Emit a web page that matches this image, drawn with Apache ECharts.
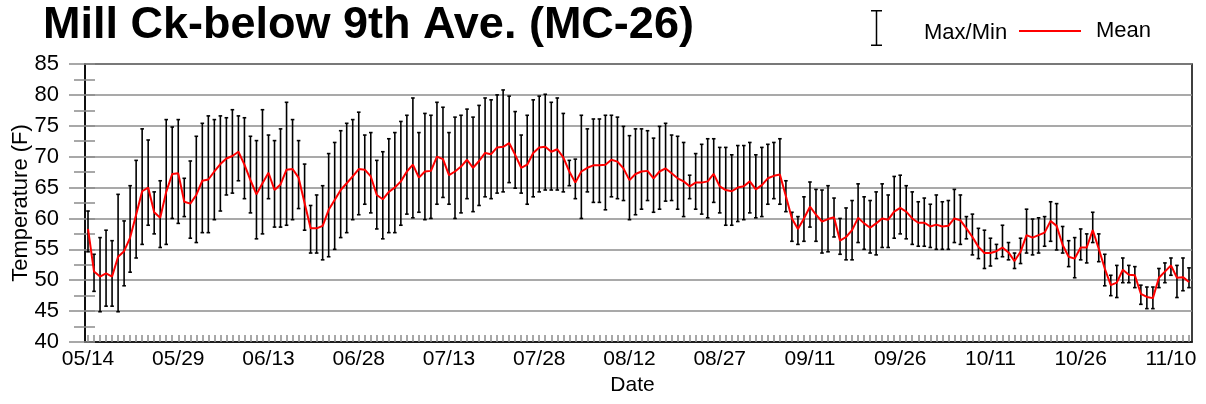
<!DOCTYPE html>
<html><head><meta charset="utf-8">
<script src="https://cdn.jsdelivr.net/npm/echarts@6/dist/echarts.min.js"></script>
<style>html,body{margin:0;padding:0;background:#fff}#c{width:1206px;height:404px}</style>
</head><body><div id="c"></div>
<script>
const startMonth = 5, startDay = 14, dayCount = 184;
const tickLabels = ['05/14','05/29','06/13','06/28','07/13','07/28','08/12','08/27','09/11','09/26','10/11','10/26','11/10'];
const maxVals = [61.2,54.2,56.9,58.1,56.4,63.9,59.6,65.3,69.4,74.5,72.7,64.3,66.1,76.0,74.8,76.0,66.5,
69.3,73.3,75.4,76.6,76.0,76.6,76.3,77.6,76.6,76.3,73.3,72.6,77.6,73.5,72.6,74.5,78.8,76.0,72.6,68.8,
62.1,63.8,65.3,70.5,72.3,74.2,75.4,76.0,77.2,73.5,73.9,69.4,70.8,72.9,73.9,75.7,76.7,79.5,73.9,77.0,
76.7,78.8,78.0,73.9,76.4,76.7,77.7,76.4,78.3,79.5,79.2,80.0,80.8,79.8,77.3,73.5,76.7,79.2,79.8,80.1,
78.8,79.5,77.0,69.4,69.6,76.7,74.5,76.1,76.1,76.7,76.7,76.4,74.9,73.4,74.5,74.5,74.2,73.0,74.9,75.4,
73.5,73.3,72.3,67.0,70.5,72.0,72.9,72.9,71.5,71.5,70.3,71.8,71.8,72.3,70.3,71.5,72.0,72.3,72.9,
66.1,61.0,60.3,63.5,65.9,64.7,64.6,65.3,63.3,60.0,61.7,62.9,65.6,63.5,62.9,64.3,65.6,63.8,66.8,67.0,65.3,
64.3,62.7,63.3,62.3,63.8,62.7,62.9,64.7,63.8,60.3,60.7,58.4,58.1,56.8,55.8,58.9,56.1,54.4,56.8,61.5,
59.9,60.1,60.3,62.7,62.4,58.7,56.4,56.9,58.3,57.5,61.0,57.5,54.2,50.8,52.4,53.6,52.4,52.2,49.2,48.9,48.9,51.9,52.8,53.6,52.4,53.6,52.0];
const minVals = [54.6,48.2,44.9,45.8,45.8,44.9,49.1,51.3,53.6,55.8,58.9,57.5,55.3,55.8,60.0,59.2,60.3,
56.8,56.1,57.7,57.7,59.8,61.2,63.8,64.1,66.1,63.2,60.9,56.7,57.5,63.2,58.6,58.6,58.9,59.8,61.6,58.1,
54.4,54.4,53.3,53.8,55.0,56.9,57.7,59.8,60.6,62.3,60.9,58.3,56.7,57.7,57.7,58.9,60.7,60.1,61.0,59.8,
60.0,62.3,63.4,62.3,60.0,60.9,63.2,61.1,62.1,63.5,63.2,64.1,64.3,65.8,64.9,64.1,62.3,63.5,64.3,64.6,
64.6,64.6,64.3,65.3,63.2,60.0,64.3,62.6,62.6,61.4,63.5,63.2,62.9,59.8,60.6,61.5,62.9,61.0,61.5,62.8,
62.9,61.5,60.3,63.2,61.5,60.7,60.1,62.6,60.9,58.9,58.9,59.5,59.8,60.9,60.1,60.3,62.3,63.2,62.3,
61.1,56.3,55.8,56.3,58.6,56.3,54.4,54.6,57.0,54.2,53.3,53.3,56.1,55.0,54.4,54.1,55.3,55.3,56.8,57.5,56.7,
55.8,55.5,55.5,55.3,55.0,55.0,55.0,56.1,55.8,56.7,54.1,53.5,51.9,52.3,53.5,53.8,53.3,51.9,52.7,54.4,
54.1,54.4,55.5,56.3,54.9,54.4,52.2,50.4,53.3,52.8,56.1,53.0,49.1,47.5,47.2,49.6,49.6,48.8,46.1,45.4,45.4,48.8,49.6,50.8,47.2,48.3,48.8];
const meanVals = [58.3,51.4,50.6,51.1,50.6,53.8,54.7,56.9,60.6,64.4,65.0,61.0,60.1,64.3,67.2,67.3,62.7,
62.4,63.8,66.1,66.3,67.6,68.8,69.7,70.1,70.8,68.7,66.2,63.9,65.7,67.4,64.6,65.5,67.9,68.0,66.6,62.5,
58.4,58.4,58.8,61.4,63.0,64.6,65.7,66.8,68.0,67.9,66.8,63.8,63.1,64.3,65.0,66.0,67.6,68.7,66.6,67.6,
67.7,70.0,69.6,67.0,67.6,68.4,69.5,68.2,69.3,70.6,70.4,71.5,71.6,72.2,70.3,68.2,68.7,70.6,71.5,71.6,
70.8,71.2,69.9,67.6,65.8,67.6,68.2,68.6,68.6,68.7,69.5,69.2,68.1,66.2,67.2,67.6,67.7,66.5,67.6,68.1,
67.3,66.5,66.0,65.2,65.8,65.8,66.0,67.2,65.2,64.6,64.4,65.0,65.2,66.0,64.7,65.4,66.5,66.9,67.1,
63.6,60.0,58.3,60.0,61.9,60.6,59.5,59.9,60.2,56.4,57.0,58.1,60.1,59.2,58.5,59.2,60.0,59.8,61.1,61.7,61.1,
60.0,59.3,59.3,58.7,59.0,58.7,58.8,60.0,59.7,58.4,57.0,55.4,54.4,54.4,54.7,55.3,54.5,53.1,54.6,57.3,
56.9,57.3,57.7,59.6,58.8,55.7,53.8,53.5,55.3,55.3,58.1,55.1,51.9,49.2,49.6,51.7,50.9,50.8,47.8,47.3,47.1,50.4,51.4,52.4,50.4,50.5,49.7];

const categories = [];
for (let i = 0; i < dayCount; i++) {
  const d = new Date(2001, startMonth - 1, startDay + i);
  categories.push(String(d.getMonth() + 1).padStart(2, '0') + '/' + String(d.getDate()).padStart(2, '0'));
}
const barData = categories.map((c, i) => [i, minVals[i], maxVals[i]]);

const FONT = 'Liberation Sans, Arial, Helvetica, sans-serif';
const GRAY = '#8c8c8c';
const chart = echarts.init(document.getElementById('c'), null, {renderer: 'canvas'});
chart.setOption({
  animation: false,
  backgroundColor: '#fff',
  textStyle: {fontFamily: FONT},
  title: {
    text: 'Mill Ck-below 9th Ave. (MC-26)',
    left: 38, top: -2,
    textStyle: {fontSize: 45, fontWeight: 'bold', color: '#000', fontFamily: FONT}
  },
  legend: [
    {
      data: [{name: 'Max/Min', icon: 'path://M0,0 H11 V1.5 H6.25 V34.5 H11 V36 H0 V34.5 H4.75 V1.5 H0 Z'}],
      left: 866, top: 5, itemWidth: 11, itemHeight: 36,
      formatter: '{t|{name}}',
      textStyle: {
        fontSize: 22, color: '#000', fontFamily: FONT,
        rich: {t: {fontSize: 22, color: '#000', fontFamily: FONT, padding: [9, 0, 0, 37]}}
      }
    },
    {
      data: [{name: 'Mean', icon: 'rect'}],
      left: 1014, top: 15, itemWidth: 62, itemHeight: 2,
      textStyle: {fontSize: 22, color: '#000', fontFamily: FONT, padding: [0, 0, 0, 10]}
    }
  ],
  grid: {left: 85, right: 14, top: 64, bottom: 62, containLabel: false, outerBoundsMode: 'none',
    show: true, borderColor: '#000', borderWidth: 1.5, backgroundColor: 'transparent'},
  xAxis: {
    type: 'category', data: categories, boundaryGap: true,
    name: 'Date', nameLocation: 'middle', nameGap: 33, nameMoveOverlap: false,
    nameTextStyle: {fontSize: 21, color: '#000', fontFamily: FONT, padding: [0, 12, 0, 0]},
    axisLine: {lineStyle: {color: '#000', width: 1.5}},
    axisTick: {show: true, inside: true, interval: 0, alignWithLabel: true, length: 7, lineStyle: {color: GRAY, width: 1.5}},
    axisLabel: {
      interval: (idx, val) => tickLabels.includes(val),
      fontSize: 21, color: '#000', margin: 7, fontFamily: FONT
    },
    splitLine: {show: false}
  },
  yAxis: [
    {
      type: 'value', min: 40, max: 85, interval: 5, position: 'left',
      name: 'Temperature (F)', nameLocation: 'middle', nameGap: 53, nameMoveOverlap: false,
      nameTextStyle: {fontSize: 22, color: '#000', fontFamily: FONT},
      axisLine: {show: true, lineStyle: {color: '#000', width: 1.5}},
      axisTick: {show: true, inside: false, length: 16, lineStyle: {color: GRAY, width: 1.5}},
      minorTick: {show: true, splitNumber: 2, length: 11, lineStyle: {color: GRAY, width: 1.5}},
      axisLabel: {fontSize: 22, color: '#000', margin: 26, fontFamily: FONT},
      splitLine: {show: true, lineStyle: {color: GRAY, width: 1.5}}
    },
    {
      type: 'value', min: 40, max: 85, interval: 5, position: 'left',
      axisLine: {show: false},
      axisTick: {show: true, inside: true, length: 10, lineStyle: {color: GRAY, width: 1.5}},
      minorTick: {show: true, splitNumber: 2, length: 10, lineStyle: {color: GRAY, width: 1.5}},
      axisLabel: {show: false},
      splitLine: {show: false}
    }
  ],
  series: [
    {
      name: 'Max/Min', type: 'custom', data: barData,
      encode: {x: 0, y: [1, 2]},
      itemStyle: {color: '#000'},
      renderItem: function (params, api) {
        const x = api.value(0);
        const lo = api.coord([x, api.value(1)]);
        const hi = api.coord([x, api.value(2)]);
        const cw = 1.8;
        const style = {stroke: '#000', lineWidth: 1.6, fill: null};
        return {type: 'group', children: [
          {type: 'line', shape: {x1: lo[0], y1: lo[1], x2: hi[0], y2: hi[1]}, style: style},
          {type: 'line', shape: {x1: lo[0] - cw, y1: lo[1], x2: lo[0] + cw, y2: lo[1]}, style: style},
          {type: 'line', shape: {x1: hi[0] - cw, y1: hi[1], x2: hi[0] + cw, y2: hi[1]}, style: style}
        ]};
      },
      z: 2
    },
    {
      name: 'Mean', type: 'line', data: meanVals,
      symbol: 'none', showSymbol: false,
      itemStyle: {color: '#ff0000'},
      lineStyle: {color: '#ff0000', width: 2},
      z: 3
    }
  ]
});
</script>
</body></html>
